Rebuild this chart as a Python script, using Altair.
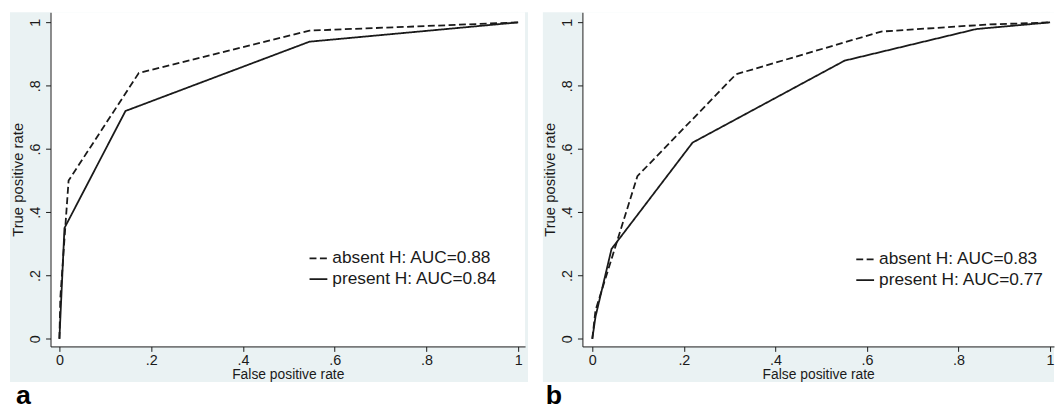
import altair as alt
import pandas as pd

# ---------------- data ----------------
ticks = [0, 0.2, 0.4, 0.6, 0.8, 1.0]

labels_a = ["absent H: AUC=0.88", "present H: AUC=0.84"]
labels_b = ["absent H: AUC=0.83", "present H: AUC=0.77"]

a_absent_fpr = [0.0, 0.002, 0.02, 0.173, 0.545, 1.0]
a_absent_tpr = [0.0, 0.13, 0.50, 0.84, 0.974, 1.0]
a_present_fpr = [0.0, 0.011, 0.144, 0.545, 1.0]
a_present_tpr = [0.0, 0.35, 0.72, 0.939, 1.0]

b_absent_fpr = [0.0, 0.007, 0.0985, 0.314, 0.631, 0.86, 1.0]
b_absent_tpr = [0.0, 0.09, 0.514, 0.836, 0.971, 0.993, 1.0]
b_present_fpr = [0.0, 0.007, 0.042, 0.219, 0.551, 0.839, 1.0]
b_present_tpr = [0.0, 0.07, 0.284, 0.62, 0.879, 0.979, 1.0]

# ---------------- style ----------------
FONT = "Liberation Sans"
INK = "#1a1a1a"
BG = "#eaf2f3"
LBL = "replace(format(datum.value, '.1~f'), '0.', '.')"


def frame(series):
    rows = []
    for name, xs, ys in series:
        for i, (x, y) in enumerate(zip(xs, ys)):
            rows.append({"series": name, "fpr": x, "tpr": y, "idx": i})
    return pd.DataFrame(rows)


def panel(df, labels, W, H, xdom, ydom, lx, ly, letter, left_ext, right_ext, bg_h, letter_dx):
    one = pd.DataFrame({"k": [0]})
    bg = alt.Chart(one).mark_rect(color=BG).encode(
        x=alt.value(-left_ext), x2=alt.value(W + right_ext),
        y=alt.value(0), y2=alt.value(bg_h),
    )
    plot_bg = alt.Chart(one).mark_rect(color="white").encode(
        x=alt.value(0), x2=alt.value(W), y=alt.value(0), y2=alt.value(H),
    )
    lines = alt.Chart(df).mark_line(strokeWidth=1.8, color=INK).encode(
        x=alt.X(
            "fpr:Q",
            scale=alt.Scale(domain=xdom, nice=False, zero=False),
            axis=alt.Axis(
                values=ticks, labelExpr=LBL, title="False positive rate", grid=False,
                domainColor=INK, tickColor=INK, tickSize=5, labelFontSize=14.5,
                titleFontSize=14, labelPadding=2, titlePadding=1, labelFont=FONT,
                titleFont=FONT, labelColor=INK, titleColor=INK, titleFontWeight="normal",
                zindex=1, labelFlush=False, labelOverlap=False,
            ),
        ),
        y=alt.Y(
            "tpr:Q",
            scale=alt.Scale(domain=ydom, nice=False, zero=False),
            axis=alt.Axis(
                values=ticks, labelExpr=LBL, title="True positive rate", grid=False,
                domainColor=INK, tickColor=INK, tickSize=5, labelFontSize=14.5,
                titleFontSize=15, labelAngle=270, labelAlign="center",
                labelBaseline="alphabetic", labelPadding=6, titlePadding=2,
                labelFont=FONT, titleFont=FONT, labelColor=INK, titleColor=INK,
                titleFontWeight="normal", zindex=1, labelFlush=False, labelOverlap=False,
            ),
        ),
        strokeDash=alt.StrokeDash(
            "series:N",
            scale=alt.Scale(domain=labels, range=[[7, 3.5], [1, 0]]),
            legend=alt.Legend(
                title=None, orient="none", legendX=lx, legendY=ly,
                symbolType="stroke", symbolSize=324, symbolStrokeWidth=1.8,
                symbolStrokeColor=INK, labelFontSize=17.5, labelFont=FONT,
                labelColor=INK, labelOffset=4, rowPadding=2, padding=0,
                labelLimit=400,
            ),
        ),
        order="idx:Q",
    )
    return alt.layer(bg, plot_bg, lines).properties(
        width=W, height=H,
        title=alt.TitleParams(
            text=letter, orient="bottom", anchor="start", frame="group",
            fontSize=27, fontWeight="bold", font=FONT, color="#000",
            offset=1, dx=letter_dx,
        ),
    )


df_a = frame([(labels_a[0], a_absent_fpr, a_absent_tpr),
              (labels_a[1], a_present_fpr, a_present_tpr)])
df_b = frame([(labels_b[0], b_absent_fpr, b_absent_tpr),
              (labels_b[1], b_present_fpr, b_present_tpr)])

H = 338
ydom = [-0.024, 1.032]

pa = panel(df_a, labels_a, 480, H, [-0.0194, 1.015], ydom, 261, 239, "a", 41, 3, 374, -35)
pb = panel(df_b, labels_b, 477, H, [-0.0216, 1.0086], ydom, 276, 240, "b", 40, 0, 374, -37)

chart = (
    alt.hconcat(pa, pb, spacing=15)
    .resolve_scale(strokeDash="independent")
    .resolve_legend(strokeDash="independent")
    .configure(background="white", padding={"left": 2, "top": 2, "right": 0, "bottom": 0})
    .configure_view(stroke=None)
)

chart.save("out.html", embed_options={"renderer": "svg", "actions": False})
